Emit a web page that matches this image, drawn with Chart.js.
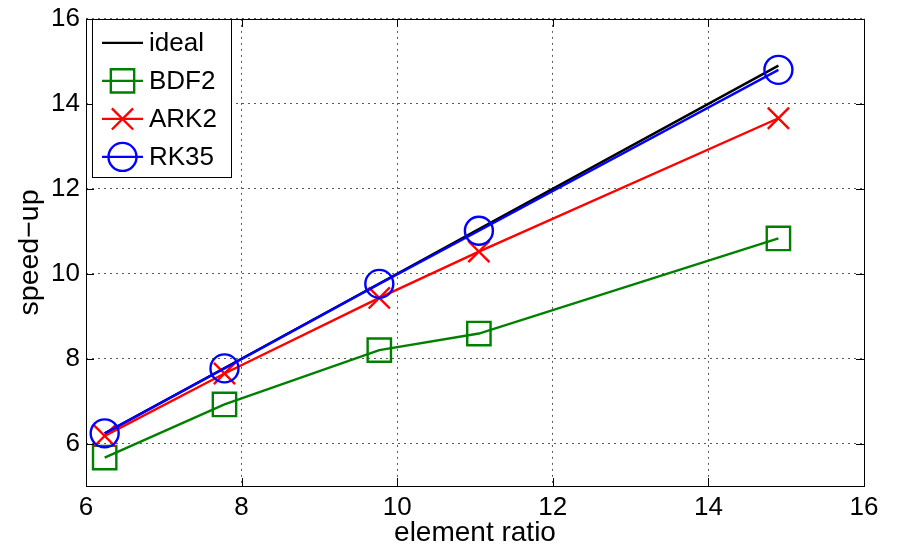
<!DOCTYPE html>
<html>
<head>
<meta charset="utf-8">
<script src="https://cdn.jsdelivr.net/npm/chart.js@4/dist/chart.umd.min.js"></script>
<style>
  html, body { margin: 0; padding: 0; background: #fff; }
  canvas { display: block; }
</style>
</head>
<body>
<canvas id="speedup" width="897" height="550"></canvas>
<script>
// Element ratio (x) and measured speed-up (y) per scheme
const elementRatio = [6.24, 7.78, 9.77, 11.05, 14.90];
const idealSpeedup = [6.24, 7.78, 9.77, 11.05, 14.90];
const bdf2 = [5.67, 6.92, 8.20, 8.59, 10.83];
const ark2 = [6.18, 7.65, 9.43, 10.52, 13.66];
const rk35 = [6.24, 7.77, 9.76, 11.01, 14.80];

const xTicks = [6, 8, 10, 12, 14, 16];
const yTicks = [6, 8, 10, 12, 14, 16];

const FONT = '"Liberation Sans", Arial, Helvetica, sans-serif';

function pts(ys) {
  return elementRatio.map((x, i) => ({ x: x, y: ys[i] }));
}

const series = [
  { label: 'ideal', data: pts(idealSpeedup), color: '#000000', marker: false, order: 4 },
  { label: 'BDF2', data: pts(bdf2), color: '#008000', marker: 'rect', radius: 16.5, order: 3 },
  { label: 'ARK2', data: pts(ark2), color: '#ff0000', marker: 'crossRot', radius: 15, order: 2 },
  { label: 'RK35', data: pts(rk35), color: '#0000ff', marker: 'circle', radius: 14, order: 1 }
];

const LINE_W = 2.4;

const datasets = series.map(s => ({
  label: s.label,
  data: s.data,
  borderColor: s.color,
  backgroundColor: 'transparent',
  borderWidth: LINE_W,
  pointStyle: s.marker || 'circle',
  pointRadius: s.marker ? s.radius : 0,
  pointBorderWidth: LINE_W,
  pointBorderColor: s.color,
  pointBackgroundColor: 'transparent',
  tension: 0,
  fill: false,
  order: s.order
}));

// Draw a legend sample: a short line plus the marker
function drawMarker(ctx, s, x, y) {
  if (!s.marker) return;
  ctx.save();
  ctx.strokeStyle = s.color;
  ctx.lineWidth = LINE_W;
  ctx.beginPath();
  if (s.marker === 'rect') {
    const h = s.radius * Math.SQRT1_2;
    ctx.rect(x - h, y - h, 2 * h, 2 * h);
  } else if (s.marker === 'crossRot') {
    const o = s.radius * Math.SQRT1_2;
    ctx.moveTo(x - o, y - o); ctx.lineTo(x + o, y + o);
    ctx.moveTo(x - o, y + o); ctx.lineTo(x + o, y - o);
  } else {
    ctx.arc(x, y, s.radius, 0, Math.PI * 2);
  }
  ctx.stroke();
  ctx.restore();
}

const framePlugin = {
  id: 'frame',
  afterDatasetsDraw(chart) {
    const ctx = chart.ctx;
    const a = chart.chartArea;
    const xs = chart.scales.x, ys = chart.scales.y;
    ctx.save();
    ctx.strokeStyle = '#000';
    ctx.lineWidth = 1;
    // box
    ctx.strokeRect(Math.round(a.left) + 0.5, Math.round(a.top) + 0.5,
                   Math.round(a.right - a.left), Math.round(a.bottom - a.top));
    // inward tick marks on all four sides
    const tl = 8;
    ctx.beginPath();
    xTicks.forEach(v => {
      const px = Math.round(xs.getPixelForValue(v)) + 0.5;
      ctx.moveTo(px, a.bottom); ctx.lineTo(px, a.bottom - tl);
      ctx.moveTo(px, a.top); ctx.lineTo(px, a.top + tl);
    });
    yTicks.forEach(v => {
      const py = Math.round(ys.getPixelForValue(v)) + 0.5;
      ctx.moveTo(a.left, py); ctx.lineTo(a.left + tl, py);
      ctx.moveTo(a.right, py); ctx.lineTo(a.right - tl, py);
    });
    ctx.stroke();

    // legend box
    const lx = a.left + 6, ly = a.top, lw = 139, lh = 158;
    ctx.fillStyle = '#fff';
    ctx.fillRect(lx, ly, lw, lh);
    ctx.strokeRect(Math.round(lx) + 0.5, Math.round(ly) + 0.5, lw, lh);
    ctx.font = '26px ' + FONT;
    ctx.textBaseline = 'middle';
    ctx.textAlign = 'left';
    series.forEach((s, i) => {
      const cy = ly + 24 + i * 38;
      ctx.strokeStyle = s.color;
      ctx.lineWidth = LINE_W;
      ctx.beginPath();
      ctx.moveTo(lx + 10, cy); ctx.lineTo(lx + 51, cy);
      ctx.stroke();
      drawMarker(ctx, s, lx + 30.5, cy);
      ctx.fillStyle = '#000';
      ctx.fillText(s.label, lx + 57, cy + 1);
    });
    ctx.restore();
  }
};

new Chart(document.getElementById('speedup'), {
  type: 'line',
  data: { datasets: datasets },
  plugins: [framePlugin],
  options: {
    responsive: false,
    animation: false,
    devicePixelRatio: 1,
    layout: { padding: { left: 11, right: 33, top: 17, bottom: 0 } },
    plugins: { legend: { display: false }, tooltip: { enabled: false } },
    scales: {
      x: {
        type: 'linear',
        min: 6, max: 16,
        afterBuildTicks: s => { s.ticks = xTicks.map(v => ({ value: v })); },
        afterFit: s => { s.height = 64; s.paddingLeft = 0; s.paddingRight = 0; },
        grid: { color: 'rgba(0,0,0,0.65)', lineWidth: 1, drawTicks: false },
        border: { display: false, dash: [2, 4] },
        ticks: { color: '#000', font: { family: FONT, size: 26 }, padding: 6, maxRotation: 0 },
        title: { display: true, text: 'element ratio', color: '#000',
                 font: { family: FONT, size: 28 }, padding: { top: 0, bottom: 0 } }
      },
      y: {
        type: 'linear',
        min: 5, max: 16,
        afterBuildTicks: s => { s.ticks = yTicks.map(v => ({ value: v })); },
        afterFit: s => { s.width = 75; s.paddingTop = 0; s.paddingBottom = 0; },
        grid: { color: 'rgba(0,0,0,0.65)', lineWidth: 1, drawTicks: false },
        border: { display: false, dash: [2, 4] },
        ticks: { color: '#000', font: { family: FONT, size: 26 }, padding: 6 },
        title: { display: true, text: 'speed\u2212up', color: '#000',
                 font: { family: FONT, size: 28.5 }, padding: { top: 2, bottom: 0 } }
      }
    }
  }
});
</script>
</body>
</html>
